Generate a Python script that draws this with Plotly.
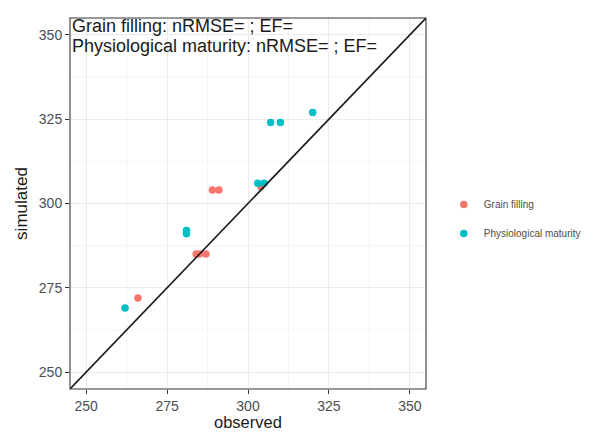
import plotly.graph_objects as go

# Data
gf_obs = [266, 284, 285, 287, 289, 291, 304]
gf_sim = [272, 285, 285, 285, 304, 304, 305]
pm_obs = [262, 281, 281, 303, 305, 307, 310, 320]
pm_sim = [269, 292, 291, 306, 306, 324, 324, 327]
axis_limits = [245, 355]
tick_vals = [250, 275, 300, 325, 350]
minor_vals = [262.5, 287.5, 312.5, 337.5]
series_names = ["Grain filling", "Physiological maturity"]
annot_lines = ["Grain filling: nRMSE= ; EF=", "Physiological maturity: nRMSE= ; EF="]
x_title = "observed"
y_title = "simulated"

FONT = "Liberation Sans, Arial"
PLOT_H = 371

fig = go.Figure()
fig.add_trace(go.Scatter(x=gf_obs, y=gf_sim, mode="markers", name=series_names[0],
                         legendgroup="a",
                         marker=dict(color="#F8766D", size=7.5)))
fig.add_trace(go.Scatter(x=pm_obs, y=pm_sim, mode="markers", name=series_names[1],
                         legendgroup="b",
                         marker=dict(color="#00BFC4", size=7.5)))
fig.add_trace(go.Scatter(x=axis_limits, y=axis_limits, mode="lines",
                         line=dict(color="#1a1a1a", width=1.6), showlegend=False,
                         hoverinfo="skip"))

shapes = []
for v in minor_vals:
    shapes.append(dict(type="line", xref="x", yref="paper", x0=v, x1=v, y0=0, y1=1,
                       line=dict(color="#f2f2f2", width=0.8), layer="below"))
    shapes.append(dict(type="line", xref="paper", yref="y", x0=0, x1=1, y0=v, y1=v,
                       line=dict(color="#f2f2f2", width=0.8), layer="below"))
shapes.append(dict(type="rect", xref="paper", yref="paper", x0=0, x1=1, y0=0, y1=1,
                   line=dict(color="#333333", width=1.1), layer="above"))

axis_common = dict(range=axis_limits, tickvals=tick_vals, showgrid=True,
                   gridcolor="#ebebeb", gridwidth=1.1, zeroline=False,
                   ticks="outside", ticklen=4, tickcolor="#333333", tickwidth=1,
                   tickfont=dict(family=FONT, size=14, color="#4d4d4d"),
                   showline=False, automargin=False)

annots = []
line_y = [1.011, 1.011 - 20 / PLOT_H]
for txt, yy in zip(annot_lines, line_y):
    annots.append(dict(xref="paper", yref="paper", x=0, y=yy, xanchor="left", yanchor="top",
                       text=txt, showarrow=False, align="left",
                       font=dict(family=FONT, size=18, color="#1a1a1a")))
annots.append(dict(xref="paper", yref="paper", x=0.5, y=-(422 - 389) / PLOT_H,
                   xanchor="center", yanchor="middle", text=x_title, showarrow=False,
                   borderpad=0,
                   font=dict(family=FONT, size=16.5, color="#1a1a1a")))

fig.update_layout(
    width=598, height=432,
    margin=dict(l=70, r=170, t=18, b=43),
    paper_bgcolor="white", plot_bgcolor="white",
    font=dict(family=FONT, color="#000000"),
    xaxis=dict(**axis_common),
    yaxis=dict(**axis_common, title=dict(text=y_title, standoff=6,
                                         font=dict(size=17, color="#1a1a1a"))),
    shapes=shapes,
    showlegend=True,
    legend=dict(x=1.05, y=0.458, xanchor="left", yanchor="middle",
                font=dict(family=FONT, size=10, color="#4d4d4d"), tracegroupgap=10,
                bgcolor="rgba(0,0,0,0)", borderwidth=0),
    annotations=annots,
)

fig.write_html("out.html")
